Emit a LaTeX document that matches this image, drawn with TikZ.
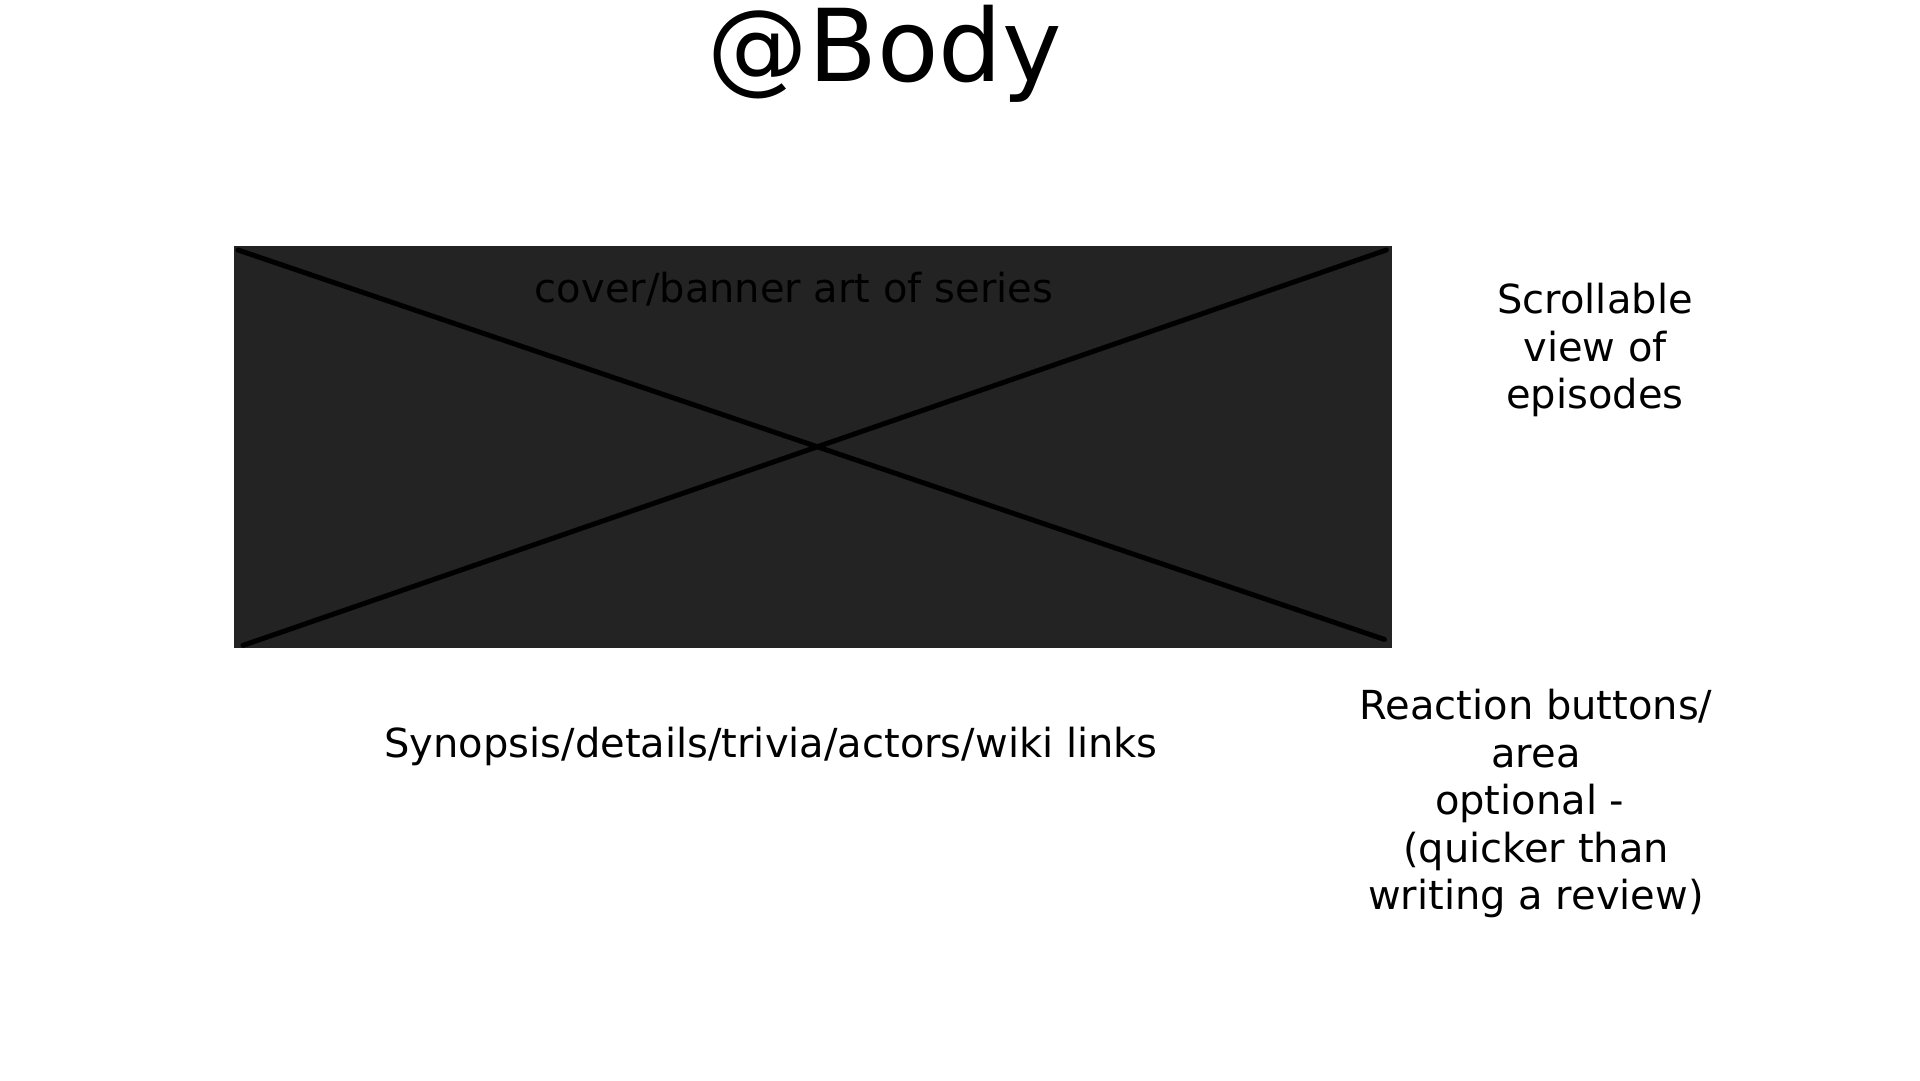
\documentclass[tikz,border=0pt]{standalone}
\usepackage{fontspec}
\setmainfont{DejaVu Sans}
\usetikzlibrary{positioning}
\definecolor{artfill}{HTML}{232323}

\begin{document}
\begin{tikzpicture}[x=1pt, y=-1pt,
    every node/.style={inner sep=0pt},
    note/.style={font=\fontsize{40}{47.5}\selectfont, align=center},
    cross/.style={line width=5pt, line cap=round}]
    \useasboundingbox (0,0) rectangle (1920,1080);

    \node[font=\fontsize{100.5}{120}\selectfont, anchor=base] (title) at (885,81) {@Body};

    % banner placeholder
    \node[fill=artfill, minimum width=1158pt, minimum height=402pt,
        anchor=north west] (art) at (234,246) {};
    \draw[cross] ([shift={(4pt,-4pt)}]art.north west) -- ([shift={(-8pt,9pt)}]art.south east);
    \draw[cross] ([shift={(9pt,3pt)}]art.south west) -- ([shift={(-6pt,-4pt)}]art.north east);
    \node[note, anchor=base] (arttext) at (794,302) {cover/banner art of series};

    \node[note, anchor=north] (episodes) at (1595,283) {Scrollable\\view of\\episodes};
    \node[note, anchor=base] (synopsis) at (771,757) {Synopsis/details/trivia/actors/wiki links};
    \node[note, anchor=north] (reaction) at (1536,689)
        {Reaction buttons/\\area\\optional -\hphantom{ }\\(quicker than\\writing a review)};

\end{tikzpicture}
\end{document}
